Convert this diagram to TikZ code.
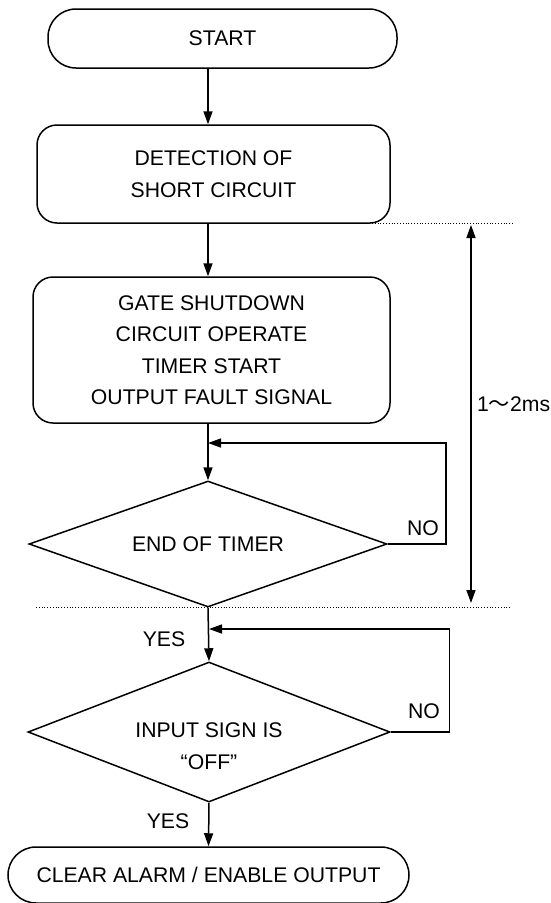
\documentclass[tikz,border=0pt]{standalone}
\usepackage{fontspec}
\setmainfont{Liberation Sans}
\newfontfamily\cjkfont{Noto Sans CJK JP}
\usepackage{tikz}
\usetikzlibrary{shapes.geometric,arrows.meta,calc}

\tikzset{
	base/.style={draw, line width=1.5pt, align=center, inner sep=0pt,
		font=\fontsize{21.2}{31.5}\selectfont},
	term/.style={base, rounded corners=28pt},
	procbox/.style={base, rounded corners=20pt},
	decision/.style={base, diamond, aspect=2.8},
	lbl/.style={font=\fontsize{21.2}{31.5}\selectfont, inner sep=0pt},
	flow/.style={line width=1.5pt, -{Triangle[length=13pt,width=9pt]}},
	span/.style={line width=1.5pt, {Triangle[length=13pt,width=9pt]}-{Triangle[length=13pt,width=9pt]}},
	guide/.style={line width=0.8pt, dash pattern=on 0.8pt off 2pt},
}

\begin{document}
\begin{tikzpicture}[x=1pt,y=-1pt]
	\useasboundingbox (0,0) rectangle (551,903);
	
	\coordinate (spine) at (208,0);     % the main flow line
	\coordinate (back1) at (208,443);   % return of the timer loop
	\coordinate (back2) at (209,629);   % return of the input loop
	
	\coordinate (G1) at (288,223);
	\coordinate (G2) at (514,223);
	\coordinate (G3) at (36,607);
	\coordinate (G4) at (510,607);
	\coordinate (T0) at (471,225);
	\coordinate (T1) at (471,603);
	
	\node[term, minimum width=349pt, minimum height=59pt] (start) at (222.5,38.5) {START};
	\node[procbox, minimum width=353pt, minimum height=98pt] (detect) at (213.5,174)
		{DETECTION OF\\SHORT CIRCUIT};
	\node[procbox, minimum width=357pt, minimum height=146pt] (gate) at (211.5,350)
		{GATE SHUTDOWN\\CIRCUIT OPERATE\\TIMER START\\OUTPUT FAULT SIGNAL};
	\node[decision, minimum width=358pt, minimum height=126pt] (timer) at (208,544) {END OF TIMER};
	\node[decision, minimum width=362pt, minimum height=140pt] (input) at (209,732) {};
	\node[lbl, align=center] (inputtxt) at ([yshift=-14pt]input.center) {INPUT SIGN IS\\“OFF”};
	\node[term, minimum width=401pt, minimum height=56pt] (clear) at (208.5,875)
		{CLEAR ALARM / ENABLE OUTPUT};
	
	\draw[flow] (start.south -| spine) -- (detect.north -| spine);
	\draw[flow] (detect.south -| spine) -- (gate.north -| spine);
	\draw[flow] (gate.south -| spine) -- (timer.north);
	\draw[flow] (timer.east) -- ++(58,0) |- (back1);
	\draw[flow] (timer.south) -- (input.north);
	\draw[flow] (input.east) -- ++(58.5,0) |- (back2);
	\draw[flow] (input.south) -- (clear.north);
	
	\node[lbl] (no1) at (423,528) {NO};
	\node[lbl] (no2) at (424,711) {NO};
	\node[lbl] (yes1) at (164,639) {YES};
	\node[lbl] (yes2) at (168,821) {YES};
	
	% time span of the protection
	\draw[guide] (G1) -- (G2) (G3) -- (G4);
	\draw[span] (T0) -- (T1);
	\node[lbl, anchor=west] (ms) at (477,404) {1{\cjkfont ～}2ms};
	
\end{tikzpicture}
\end{document}
